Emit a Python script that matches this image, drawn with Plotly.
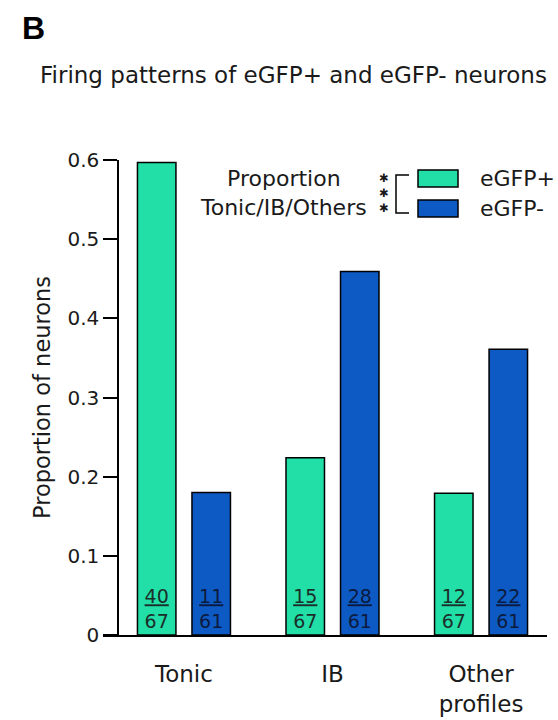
import plotly.graph_objects as go

# data
categories = ["Tonic", "IB", "Other profiles"]
category_labels = ["Tonic", "IB", "Other<br>profiles"]
series_names = ["eGFP+", "eGFP-"]
egfp_pos = [0.597, 0.224, 0.179]
egfp_neg = [0.180, 0.459, 0.361]
egfp_pos_num = [40, 15, 12]
egfp_pos_den = [67, 67, 67]
egfp_neg_num = [11, 28, 22]
egfp_neg_den = [61, 61, 61]
y_tickvals = [0, 0.1, 0.2, 0.3, 0.4, 0.5, 0.6]
y_ticktext = ["0", "0.1", "0.2", "0.3", "0.4", "0.5", "0.6"]

COLORS = ["#21DFA7", "#0E5AC4"]
TEXT_COLORS = ["#1c2e2a", "#0b1a3e"]
FONT = "DejaVu Sans"
INK = "#1a1a1a"

# plot box in pixels (558 x 720 page)
W, H = 558, 720
L, R, T, B = 103, 547, 160, 635


def px_x(v):
    return (v - L) / (R - L)


def px_y(v):
    return (B - v) / (B - T)


def frac(num, den):
    return [f"<u>{n}</u><br>{d}" for n, d in zip(num, den)]


fig = go.Figure()
for name, vals, num, den, col, tcol in [
    (series_names[0], egfp_pos, egfp_pos_num, egfp_pos_den, COLORS[0], TEXT_COLORS[0]),
    (series_names[1], egfp_neg, egfp_neg_num, egfp_neg_den, COLORS[1], TEXT_COLORS[1]),
]:
    fig.add_trace(go.Bar(
        name=name, x=categories, y=vals,
        marker=dict(color=col, line=dict(color="black", width=1.5)),
        text=frac(num, den), textposition="inside", insidetextanchor="start",
        textangle=0, textfont=dict(family=FONT, size=19, color=tcol),
        hoverinfo="skip",
    ))

# hand-drawn legend: swatches, bracket, asterisks, labels
shapes = []
annotations = []
for i, (name, col) in enumerate(zip(series_names, COLORS)):
    top = 170 + i * 30
    shapes.append(dict(type="rect", xref="paper", yref="paper",
                       x0=px_x(418), x1=px_x(458), y0=px_y(top), y1=px_y(top + 17),
                       fillcolor=col, line=dict(color="black", width=1.5)))
    annotations.append(dict(text=name, xref="paper", yref="paper",
                            x=px_x(478), y=px_y(top + 8.5), xanchor="left", yanchor="middle",
                            showarrow=False, font=dict(family=FONT, size=22, color=INK)))

shapes.append(dict(type="path", xref="paper", yref="paper",
                   path=(f"M{px_x(409)},{px_y(175)} L{px_x(396)},{px_y(175)} "
                         f"L{px_x(396)},{px_y(213)} L{px_x(409)},{px_y(213)}"),
                   line=dict(color="black", width=1.5)))

annotations.append(dict(text="✱<br>✱<br>✱", xref="paper", yref="paper",
                        x=px_x(384), y=px_y(193), xanchor="center", yanchor="middle",
                        showarrow=False, font=dict(family=FONT, size=11.5, color=INK)))

annotations.append(dict(text="Proportion<br>Tonic/IB/Others", xref="paper", yref="paper",
                        x=px_x(283), y=px_y(193), xanchor="center", yanchor="middle",
                        align="center", showarrow=False,
                        font=dict(family=FONT, size=22, color=INK)))

# panel letter
annotations.append(dict(text="<b>B</b>", xref="paper", yref="paper",
                        x=px_x(20), y=px_y(28), xanchor="left", yanchor="middle",
                        showarrow=False, font=dict(family="Liberation Sans", size=32, color="black")))

fig.update_layout(
    width=W, height=H,
    barmode="group", bargap=0.266, bargroupgap=0.294,
    showlegend=False,
    plot_bgcolor="white", paper_bgcolor="white",
    font=dict(family=FONT, color=INK),
    margin=dict(l=L, r=W - R, t=T, b=H - B, autoexpand=False),
    title=dict(text="Firing patterns of eGFP+ and eGFP- neurons",
               xref="container", yref="container", x=40 / W, y=1 - 75 / H,
               xanchor="left", yanchor="middle",
               font=dict(family=FONT, size=23, color=INK)),
    xaxis=dict(range=[-0.545, 2.444], showline=True, linecolor="black", linewidth=1.5,
               ticks="", showgrid=False, zeroline=False, automargin=False,
               tickvals=categories, ticktext=category_labels,
               tickfont=dict(family=FONT, size=23, color=INK), ticklabelstandoff=18),
    yaxis=dict(range=[0, 0.6], anchor="free", position=px_x(118),
               showline=True, linecolor="black", linewidth=1.5, automargin=False,
               ticks="outside", ticklen=14, tickwidth=1.5, tickcolor="black",
               tickvals=y_tickvals, ticktext=y_ticktext,
               showgrid=False, zeroline=False,
               tickfont=dict(family=FONT, size=20, color=INK),
               title=dict(text="Proportion of neurons", standoff=10,
                          font=dict(family=FONT, size=22.5, color=INK))),
    shapes=shapes,
    annotations=annotations,
)

# the page body has a default 8px margin; drop it so the figure fills the window
fig.write_html("out.html", config={"displayModeBar": False},
               post_script="document.body.style.margin='0';")
